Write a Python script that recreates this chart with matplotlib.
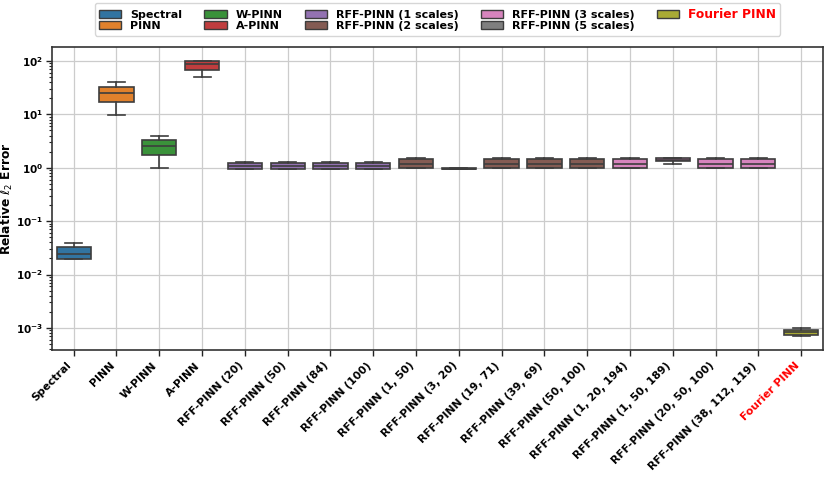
import numpy as np
import matplotlib
matplotlib.use('Agg')
import matplotlib.pyplot as plt
from matplotlib.patches import Patch
import seaborn as sns

# model names on the x axis
labels = ['Spectral', 'PINN', 'W-PINN', 'A-PINN',
          'RFF-PINN (20)', 'RFF-PINN (50)', 'RFF-PINN (84)', 'RFF-PINN (100)',
          'RFF-PINN (1, 50)', 'RFF-PINN (3, 20)', 'RFF-PINN (19, 71)',
          'RFF-PINN (39, 69)', 'RFF-PINN (50, 100)',
          'RFF-PINN (1, 20, 194)', 'RFF-PINN (1, 50, 189)',
          'RFF-PINN (20, 50, 100)', 'RFF-PINN (38, 112, 119)',
          'Fourier PINN']

# which legend group every box belongs to
groups = [0, 1, 2, 3, 4, 4, 4, 4, 5, 5, 5, 5, 5, 6, 6, 6, 6, 8]
group_names = ['Spectral', 'PINN', 'W-PINN', 'A-PINN',
               'RFF-PINN (1 scales)', 'RFF-PINN (2 scales)',
               'RFF-PINN (3 scales)', 'RFF-PINN (5 scales)', 'Fourier PINN']

# box statistics (relative l2 error)
mins = [0.0196, 9.9, 1.0, 50, 0.95, 0.95, 0.95, 0.95,
        0.97, 0.93, 0.97, 0.97, 0.97, 0.97, 1.20, 0.97, 0.97, 0.00070]
q1s = [0.0196, 17.3, 1.72, 68, 0.95, 0.96, 0.96, 0.95,
       0.98, 0.94, 0.98, 0.98, 0.98, 0.98, 1.31, 0.98, 0.98, 0.00075]
meds = [0.0247, 25.2, 2.51, 88, 1.08, 1.10, 1.09, 1.08,
        1.19, 0.955, 1.19, 1.19, 1.19, 1.19, 1.40, 1.19, 1.19, 0.00083]
q3s = [0.0325, 32.6, 3.26, 100, 1.24, 1.24, 1.24, 1.24,
       1.45, 0.97, 1.45, 1.45, 1.45, 1.45, 1.50, 1.45, 1.45, 0.00093]
maxs = [0.0397, 40, 4.0, 100, 1.30, 1.30, 1.30, 1.30,
        1.51, 0.98, 1.51, 1.51, 1.51, 1.51, 1.50, 1.51, 1.51, 0.00100]

palette = [sns.desaturate(c, 0.75) for c in sns.color_palette('tab10', 9)]
edge = '#3d3d3d'

fig = plt.figure(figsize=(8.3, 4.82), dpi=100)
ax = fig.add_axes([0.063, 0.274, 0.928, 0.628])

stats = []
for i in range(len(labels)):
    stats.append({'med': meds[i], 'q1': q1s[i], 'q3': q3s[i],
                  'whislo': mins[i], 'whishi': maxs[i], 'fliers': []})

bp = ax.bxp(stats, positions=np.arange(len(labels)), widths=0.8,
            patch_artist=True, showfliers=False,
            boxprops=dict(edgecolor=edge, linewidth=1.2),
            medianprops=dict(color=edge, linewidth=1.2),
            whiskerprops=dict(color=edge, linewidth=1.2),
            capprops=dict(color=edge, linewidth=1.2))
for patch, g in zip(bp['boxes'], groups):
    patch.set_facecolor(palette[g])
# caps as wide as seaborn draws them
for cap in bp['caps']:
    xd = cap.get_xdata()
    mid = (xd[0] + xd[1]) / 2
    cap.set_xdata([mid - 0.2, mid + 0.2])

ax.set_yscale('log')
ax.set_xlim(-0.5, len(labels) - 0.5)
ax.set_axisbelow(True)
ax.grid(True, which='major', color='#cccccc', linewidth=0.9)

ax.set_xticks(np.arange(len(labels)))
ax.set_xticklabels(labels, rotation=45, ha='right', fontsize=7.8, fontweight='bold')
ax.get_xticklabels()[-1].set_color('red')
for t in ax.get_yticklabels():
    t.set_fontweight('bold')
ax.tick_params(axis='y', labelsize=7.5, pad=2.5)
ax.tick_params(axis='both', which='both', color='#222222', direction='out')
ax.tick_params(axis='both', which='major', length=4, width=1)
ax.tick_params(axis='y', which='minor', length=2.5, width=0.8)
ax.set_ylabel(r'Relative $\ell_2$ Error', fontsize=8.8, fontweight='bold')
ax.yaxis.set_label_coords(-0.048, 0.5)

for s in ax.spines.values():
    s.set_color('#333333')
    s.set_linewidth(1.2)

handles = [Patch(facecolor=palette[k], edgecolor=edge, linewidth=1) for k in range(9)]
leg = ax.legend(handles, group_names, loc='lower center', bbox_to_anchor=(0.5, 1.02),
                ncol=5, prop={'weight': 'bold', 'size': 8}, frameon=True,
                handlelength=2.0, columnspacing=2.0, borderpad=0.4,
                labelspacing=0.15)
leg.get_texts()[-1].set_color('red')
leg.get_texts()[-1].set_fontsize(8.8)

fig.savefig('out.png', dpi=100)
